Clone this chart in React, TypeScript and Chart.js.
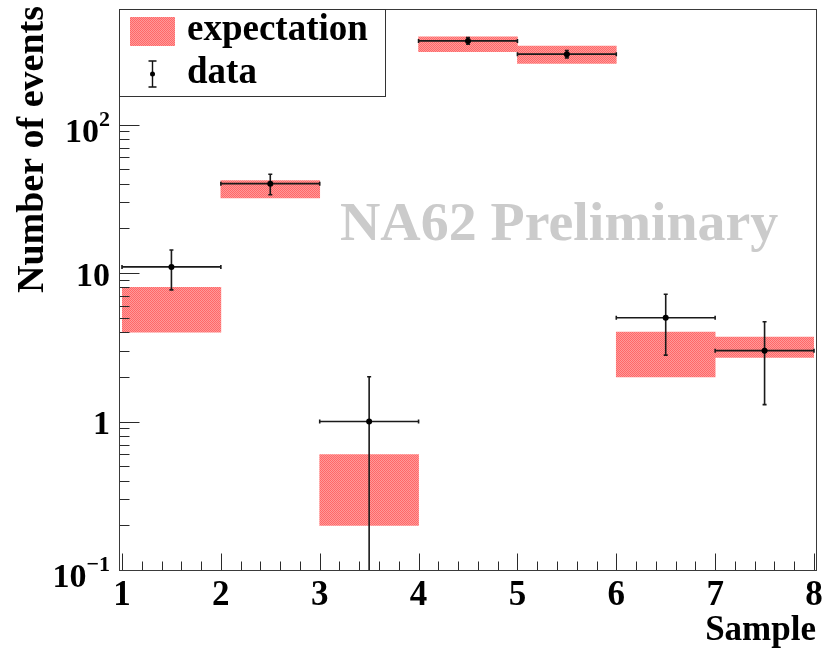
import React, { useEffect, useRef } from "react";
import { Chart, registerables } from "chart.js";

Chart.register(...registerables);

// ---- data ----
const binCenters = [1.5, 2.5, 3.5, 4.5, 5.5, 6.5, 7.5];
const binHalfWidths = [0.5, 0.5, 0.5, 0.5, 0.5, 0.5, 0.5];
const expectationLow = [4, 32, 0.2, 310, 258, 2, 2.7];
const expectationHigh = [8, 42, 0.6, 390, 337, 4, 3.7];
const dataCounts = [11, 40, 1, 366, 298, 5, 3];
const dataErrUp = [3.3, 6.3, 1, 19, 17, 2.2, 1.7];
const dataErrDown = [3.3, 6.3, 1, 19, 17, 2.2, 1.7];

const xTickLabels = ["1", "2", "3", "4", "5", "6", "7", "8"];
const xTickValues = [1, 2, 3, 4, 5, 6, 7, 8];
const yTickValues = [0.1, 1, 10, 100];
const yTickBase = ["10", "1", "10", "10"];
const yTickExp = ["\u22121", "", "", "2"];

const xTitle = "Sample";
const yTitle = "Number of events";
const watermark = "NA62 Preliminary";
const legendLabels = ["expectation", "data"];

const FONT = '"Liberation Serif", "Times New Roman", serif';

function makePattern(ctx: CanvasRenderingContext2D): CanvasPattern | string {
  const pc = document.createElement("canvas");
  pc.width = 2;
  pc.height = 2;
  const g = pc.getContext("2d");
  if (!g) return "rgba(255,0,0,0.5)";
  g.fillStyle = "rgb(255,153,153)";
  g.fillRect(0, 0, 2, 2);
  g.fillStyle = "rgb(255,104,104)";
  g.fillRect(0, 0, 1, 1);
  g.fillRect(1, 1, 1, 1);
  return ctx.createPattern(pc, "repeat") || "rgba(255,0,0,0.5)";
}

export default function App() {
  const ref = useRef<HTMLCanvasElement | null>(null);

  useEffect(() => {
    document.body.style.margin = "0";
    const canvas = ref.current;
    if (!canvas) return;
    const ctx0 = canvas.getContext("2d");
    if (!ctx0) return;
    const pattern = makePattern(ctx0);

    const rootPlugin = {
      id: "rootStyle",
      beforeDatasetsDraw(chart: any) {
        const ctx = chart.ctx as CanvasRenderingContext2D;
        ctx.save();
        ctx.fillStyle = "#cbcbcb";
        ctx.font = `bold 52px ${FONT}`;
        const w = ctx.measureText(watermark).width;
        const target = 438;
        const size = 52 * (target / w);
        ctx.font = `bold ${size.toFixed(1)}px ${FONT}`;
        ctx.textAlign = "left";
        ctx.textBaseline = "alphabetic";
        ctx.fillText(watermark, 340, 240);
        ctx.restore();
      },
      beforeDatasetDraw(chart: any, args: any) {
        if (args.index !== 0) return;
        const ctx = chart.ctx as CanvasRenderingContext2D;
        const xs = chart.scales.x;
        const ys = chart.scales.y;
        const a = chart.chartArea;
        ctx.save();
        ctx.beginPath();
        ctx.rect(a.left - 2, a.top, a.right - a.left + 4, a.bottom - a.top + 1);
        ctx.clip();
        ctx.strokeStyle = "#1a1a1a";
        ctx.lineWidth = 1.6;
        const cap = 2;
        for (let i = 0; i < binCenters.length; i++) {
          const px = xs.getPixelForValue(binCenters[i]);
          const py = ys.getPixelForValue(dataCounts[i]);
          const xl = xs.getPixelForValue(binCenters[i] - binHalfWidths[i]);
          const xr = xs.getPixelForValue(binCenters[i] + binHalfWidths[i]);
          const up = dataCounts[i] + dataErrUp[i];
          const lo = dataCounts[i] - dataErrDown[i];
          const clamped = lo <= ys.min;
          const yt = ys.getPixelForValue(up);
          const yb = clamped ? a.bottom + 1 : ys.getPixelForValue(lo);
          ctx.beginPath();
          ctx.moveTo(xl, py);
          ctx.lineTo(xr, py);
          ctx.moveTo(xl, py - cap);
          ctx.lineTo(xl, py + cap);
          ctx.moveTo(xr, py - cap);
          ctx.lineTo(xr, py + cap);
          ctx.moveTo(px, yt);
          ctx.lineTo(px, yb);
          ctx.moveTo(px - cap, yt);
          ctx.lineTo(px + cap, yt);
          if (!clamped) {
            ctx.moveTo(px - cap, yb);
            ctx.lineTo(px + cap, yb);
          }
          ctx.stroke();
        }
        ctx.restore();
      },
      afterDraw(chart: any) {
        const ctx = chart.ctx as CanvasRenderingContext2D;
        const xs = chart.scales.x;
        const ys = chart.scales.y;
        const fL = 119.5;
        const fR = 816.5;
        const fT = 9.5;
        const fB = 570.5;
        ctx.save();

        // ticks
        ctx.strokeStyle = "#2a2a2a";
        ctx.lineWidth = 1;
        ctx.beginPath();
        for (let d = -1; d <= 2; d++) {
          for (let k = 1; k <= 9; k++) {
            const v = k * Math.pow(10, d);
            if (v < ys.min * 0.999 || v > ys.max) continue;
            const py = Math.round(ys.getPixelForValue(v)) + 0.5;
            const len = k === 1 ? 20 : 10;
            ctx.moveTo(fL, py);
            ctx.lineTo(fL + len, py);
          }
        }
        for (let i = 0; i <= 35; i++) {
          const v = 1 + i * 0.2;
          const px = Math.round(xs.getPixelForValue(v)) + 0.5;
          const len = i % 5 === 0 ? 17 : 9;
          ctx.moveTo(px, fB);
          ctx.lineTo(px, fB - len);
        }
        ctx.stroke();

        // frame
        ctx.strokeStyle = "#3a3a3a";
        ctx.strokeRect(fL, fT, fR - fL, fB - fT);

        // x tick labels
        ctx.fillStyle = "#000";
        ctx.font = `bold 35px ${FONT}`;
        ctx.textAlign = "center";
        ctx.textBaseline = "alphabetic";
        for (let i = 0; i < xTickValues.length; i++) {
          ctx.fillText(xTickLabels[i], xs.getPixelForValue(xTickValues[i]), 605);
        }

        // y tick labels
        const rightX = 110;
        for (let i = 0; i < yTickValues.length; i++) {
          const py = ys.getPixelForValue(yTickValues[i]);
          ctx.textAlign = "right";
          if (yTickExp[i]) {
            ctx.font = `bold 22px ${FONT}`;
            const sw = ctx.measureText(yTickExp[i]).width;
            ctx.fillText(yTickExp[i], rightX, py + 1);
            ctx.font = `bold 34px ${FONT}`;
            ctx.fillText(yTickBase[i], rightX - sw, py + 17);
          } else {
            ctx.font = `bold 34px ${FONT}`;
            ctx.fillText(yTickBase[i], rightX, py + 12.5);
          }
        }

        // axis titles
        ctx.font = `bold 35px ${FONT}`;
        ctx.textAlign = "right";
        ctx.fillText(xTitle, 816, 640);

        ctx.save();
        ctx.translate(43, 6);
        ctx.rotate(-Math.PI / 2);
        ctx.font = `bold 38px ${FONT}`;
        ctx.textAlign = "right";
        ctx.fillText(yTitle, 0, 0);
        ctx.restore();

        // legend
        ctx.fillStyle = "#fff";
        ctx.fillRect(119.5, 9.5, 266, 87);
        ctx.strokeStyle = "#333";
        ctx.lineWidth = 1;
        ctx.strokeRect(119.5, 9.5, 266, 87);
        ctx.fillStyle = pattern as any;
        ctx.fillRect(130, 17, 45, 29);
        ctx.strokeStyle = "#111";
        ctx.lineWidth = 1.4;
        ctx.beginPath();
        ctx.moveTo(152.5, 61);
        ctx.lineTo(152.5, 87);
        ctx.moveTo(148.5, 61);
        ctx.lineTo(156.5, 61);
        ctx.moveTo(148.5, 87);
        ctx.lineTo(156.5, 87);
        ctx.stroke();
        ctx.fillStyle = "#000";
        ctx.beginPath();
        ctx.arc(152.5, 74, 2.5, 0, Math.PI * 2);
        ctx.fill();
        ctx.font = `bold 37px ${FONT}`;
        ctx.textAlign = "left";
        ctx.fillText(legendLabels[0], 187, 40);
        ctx.fillText(legendLabels[1], 187, 83);

        ctx.restore();
      },
    };

    const chart = new Chart(canvas, {
      type: "bar",
      data: {
        datasets: [
          {
            type: "scatter",
            label: legendLabels[1],
            data: binCenters.map((x, i) => ({ x, y: dataCounts[i] })),
            pointRadius: 3,
            pointStyle: "circle",
            backgroundColor: "#000",
            borderColor: "#000",
            borderWidth: 0,
            order: 0,
          } as any,
          {
            type: "bar",
            label: legendLabels[0],
            data: binCenters.map((x, i) => ({ x, y: [expectationLow[i], expectationHigh[i]] })),
            backgroundColor: pattern as any,
            borderWidth: 0,
            borderSkipped: false,
            barPercentage: 1,
            categoryPercentage: 1,
            order: 1,
          } as any,
        ],
      },
      options: {
        responsive: false,
        animation: false,
        events: [],
        layout: { padding: { left: 122, right: 23, top: 9, bottom: 81 } },
        scales: {
          x: { type: "linear", min: 1, max: 8, offset: false, display: false, ticks: { stepSize: 1 } },
          y: { type: "logarithmic", min: 0.1, max: 600, display: false },
        },
        plugins: { legend: { display: false }, tooltip: { enabled: false }, title: { display: false } },
      } as any,
      plugins: [rootPlugin as any],
    });

    return () => chart.destroy();
  }, []);

  return (
    <div style={{ width: 837, height: 651, background: "#fff" }}>
      <canvas ref={ref} width={837} height={651} style={{ display: "block", width: 837, height: 651 }} />
    </div>
  );
}
